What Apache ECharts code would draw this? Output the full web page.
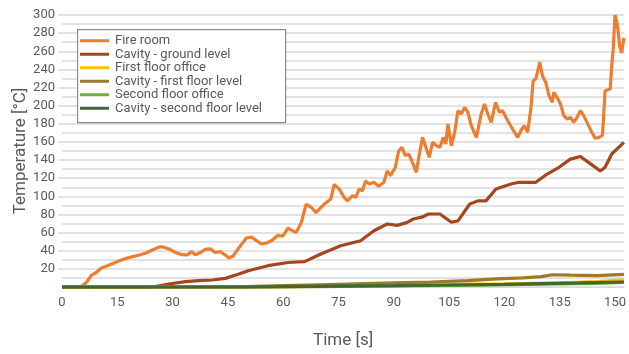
<!DOCTYPE html>
<html>
<head>
<meta charset="utf-8">
<script src="https://cdn.jsdelivr.net/npm/echarts@6/dist/echarts.min.js"></script>
<style>
html,body{margin:0;padding:0;background:#fff;}
#main{width:629px;height:354px;}
</style>
</head>
<body>
<div id="main"></div>
<script>
// ---- data (time [s], temperature [°C]) ----
const seriesNames = [
  'Fire room',
  'Cavity - ground level',
  'First floor office',
  'Cavity - first floor level',
  'Second floor office',
  'Cavity - second floor level'
];
const xTicks = [0, 15, 30, 45, 60, 75, 90, 105, 120, 135, 150];

const fireRoom = [
  [0,0],[5,0],[5.3,0.8],[6.6,5],[8,13],[9.3,16],[10.7,21],[12,23],[13.8,26],[15.6,29],
  [17.4,31.6],[19.2,33.5],[21,35.3],[22.8,37.5],[24.5,40.8],[26.3,44],[27.2,44.5],[29,42],
  [30.8,38],[32.6,35.6],[34,35.3],[35.1,39],[36.2,35.6],[37.5,38],[38.9,41.5],[40.2,42],
  [41.6,38],[42.9,39],[44.3,35.3],[45.3,32],[46.5,34.5],[47.4,40],[48.7,47],[50,54],
  [51.4,55],[52.8,51],[54.1,47.4],[55.5,48.5],[56.8,51],[58.6,57],[59.9,56],[61.3,65],
  [62.6,62],[63.5,60],[64.9,71],[66.2,91],[67.6,88],[68.9,82],[70.3,88],[71.6,93],
  [72.9,97],[73.8,113],[75.2,108],[76.5,99],[77.4,95],[78.8,100.7],[79.7,99],[80.6,108],
  [81.5,106],[82.3,117],[83.3,113.6],[84.6,115.5],[85.9,111],[87.3,115.5],[88.2,128],
  [89.1,122.8],[90.4,132],[91.3,150],[92.2,154],[93.1,145],[94,146.7],[94.9,139],
  [96.1,126.5],[97,148.5],[97.8,165],[98.7,154],[99.6,143],[100.5,159.6],[101.6,155.8],
  [102.5,154],[103.4,165],[104.1,157.7],[104.7,179.8],[105.6,155.8],[106.5,170.6],
  [107.4,194.5],[108.3,190.8],[109.2,198],[110.1,192.7],[111,178],[112.4,165],
  [113.7,190.8],[114.6,201.8],[115.5,190.8],[116.4,181.6],[117.6,203.7],[118.6,192.7],
  [119.5,194.5],[120.9,183.4],[122.2,174.3],[123.6,165],[124.7,174.3],[125.4,178],
  [126.3,170.6],[127.2,198],[127.8,227.5],[128.5,229.4],[129.6,247.8],[130.3,233],
  [131.2,225.8],[132.1,211],[133,203.7],[133.4,214.7],[134.3,209],[135.2,201.8],
  [136.1,189],[137,185.3],[137.9,187],[138.8,181.6],[139.7,187],[140.6,194.5],
  [141.5,189],[142.4,181.6],[143.7,170.6],[144.6,164],[145.7,165],[146.6,167.6],
  [147.3,216.5],[148.7,218.4],[149.1,244],[149.5,262],[150,300],[150.6,290],
  [151.3,265],[151.8,258],[152.4,275]
];
const cavityGround = [
  [0,0],[24.5,0],[29,3.3],[33.5,5.9],[37,7],[40.7,7.7],[44.3,9.5],[47.8,14],[50.5,18],
  [55.9,23.5],[61.3,27],[65.8,28],[70.2,36.4],[75.6,45.5],[81,51],[84.6,62],[88.2,69.5],
  [90.9,68],[93.5,71],[95.3,75],[97.6,77],[99.4,80.5],[102.5,80.5],[105.6,71.4],
  [107.4,73],[110.6,91.5],[112.8,95],[115,95],[117.7,108],[121.8,113.6],[124,115.5],
  [128.5,115.5],[131.6,124.6],[134.8,132],[137.9,141],[140.6,144],[142.8,137.5],
  [146,128],[147.3,132],[149.1,146.7],[152.4,159.6]
];
const firstFloorOffice = [
  [0,0],[45,0],[60,0.5],[75,1],[90,2],[105,2.8],[120,3.5],[135,4.5],[145,6],[152.4,8]
];
const cavityFirstFloor = [
  [0,0],[40,0],[50,0.5],[60,1.5],[70,2.5],[80,3.5],[90,4.5],[100,5.5],[110,7],[118,9],
  [125,10],[130,11.5],[133,13.5],[138,13],[145,12.5],[152.4,14]
];
const secondFloorOffice = [
  [0,0],[50,0],[70,0.5],[90,1.2],[110,2],[125,2.8],[135,3.5],[145,4],[152.4,5]
];
const cavitySecondFloor = [
  [0,0],[50,0],[60,0.5],[75,1],[90,1.5],[105,2.2],[120,3],[130,3.8],[140,4.5],[152.4,5.5]
];

const seriesData = [fireRoom, cavityGround, firstFloorOffice, cavityFirstFloor, secondFloorOffice, cavitySecondFloor];
const colors = ['#ED7D31', '#A5461F', '#FFC000', '#9C7A28', '#70AD47', '#43682B'];

const FONT = 'Roboto';
const TXT = '#595959';
const GRID = '#d9d9d9';

const chart = echarts.init(document.getElementById('main'));
chart.setOption({
  animation: false,
  color: colors,
  textStyle: { fontFamily: FONT },
  grid: { left: 62, right: 0, top: 15, bottom: 66 },
  graphic: [{
    type: 'rect', left: 77, top: 29, z: 90,
    shape: { width: 208, height: 93 },
    style: { fill: '#fff', stroke: '#8c8c8c', lineWidth: 1.2 }
  }],
  legend: {
    orient: 'vertical', left: 80, top: 34, z: 100,
    data: seriesNames, icon: 'rect', itemWidth: 29, itemHeight: 3,
    itemGap: 0, padding: 0,
    textStyle: { fontFamily: FONT, fontSize: 13, color: TXT, lineHeight: 13.5, padding: [0,0,0,1] }
  },
  xAxis: {
    type: 'value', min: 0, max: 152.5, interval: 15,
    name: 'Time [s]', nameLocation: 'middle', nameGap: 45, nameMoveOverlap: false,
    nameTextStyle: { fontFamily: FONT, fontSize: 17, color: TXT },
    axisLine: { show: true, lineStyle: { color: GRID } },
    axisTick: { show: false },
    splitLine: { show: false },
    axisLabel: { color: TXT, fontSize: 13, margin: 9, fontFamily: FONT,
      formatter: v => xTicks.includes(v) ? String(v) : '' }
  },
  yAxis: {
    type: 'value', min: 0, max: 300, interval: 20,
    name: 'Temperature [°C]', nameLocation: 'middle', nameGap: 33, nameMoveOverlap: false,
    nameTextStyle: { fontFamily: FONT, fontSize: 17, color: TXT },
    axisLine: { show: false },
    axisTick: { show: true, length: 4, lineStyle: { color: GRID, width: 1.5 } },
    axisLabel: { color: TXT, fontSize: 13, margin: 7, fontFamily: FONT, showMinLabel: false },
    splitLine: { show: true, lineStyle: { color: GRID, width: 1.5 } },
    minorTick: { show: false, splitNumber: 2 },
    minorSplitLine: { show: true, lineStyle: { color: GRID, width: 1.5 } }
  },
  series: seriesNames.map((n, i) => ({
    name: n, type: 'line', data: seriesData[i], showSymbol: false, symbol: 'none',
    lineStyle: { width: 3.2, color: colors[i] }, itemStyle: { color: colors[i] },
    clip: false
  }))
});
</script>
</body>
</html>
